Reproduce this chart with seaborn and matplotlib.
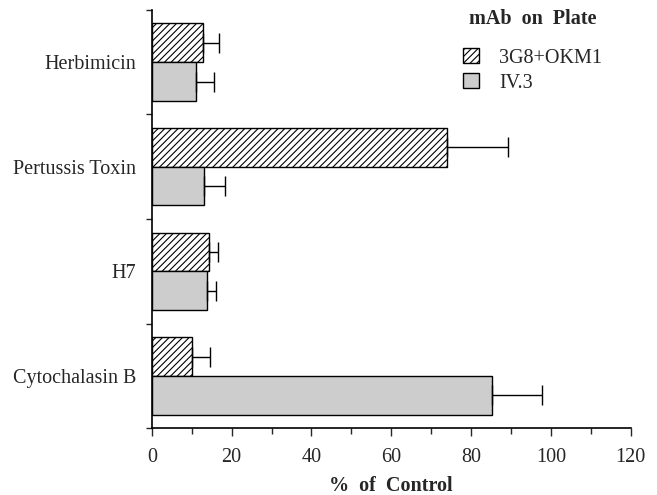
import matplotlib
matplotlib.use("Agg")
import matplotlib.pyplot as plt
import seaborn as sns
import pandas as pd
import numpy as np
from matplotlib.patches import Patch

categories = ["Herbimicin", "Pertussis Toxin", "H7", "Cytochalasin B"]
series = ["3G8+OKM1", "IV.3"]
vals_3g8 = [12.8, 73.9, 14.3, 10.2]
err_3g8 = [4.0, 15.3, 2.2, 4.3]
vals_iv3 = [11.2, 13.0, 13.8, 85.2]
err_iv3 = [4.4, 5.3, 2.4, 12.5]
xticks = [0, 20, 40, 60, 80, 100, 120]

sns.set_theme(style="ticks")
plt.rcParams['font.family'] = ['Liberation Serif', 'DejaVu Serif']
plt.rcParams['hatch.linewidth'] = 0.8

df = pd.DataFrame({
    "cat": categories * 2,
    "mab": [series[0]] * 4 + [series[1]] * 4,
    "val": vals_3g8 + vals_iv3,
})

fig = plt.figure(figsize=(6.57, 4.95), dpi=100)
ax = fig.add_axes([0.231, 0.135, 0.729, 0.845])

sns.barplot(data=df, y="cat", x="val", hue="mab", order=categories,
            hue_order=series, orient="h", width=0.74, errorbar=None,
            palette=["white", "#cdcdcd"], edgecolor="black", linewidth=1.0,
            ax=ax, legend=False)

containers = list(ax.containers)
errs = [err_3g8, err_iv3]
for ci, cont in enumerate(containers):
    for bi, bar in enumerate(cont.patches):
        if ci == 0:
            bar.set_hatch("/////")
        yc = bar.get_y() + bar.get_height() / 2
        w = bar.get_width()
        ax.errorbar([w], [yc], xerr=[[0], [errs[ci][bi]]], fmt="none",
                    ecolor="black", elinewidth=1.0, capsize=7, capthick=1.0)

fs = 14.5
ax.set_xlim(0, 120)
ax.set_ylim(3.5, -0.5)
ax.set_xticks(xticks)
ax.set_xticks(np.arange(0, 121, 10), minor=True)
ax.set_xticklabels([str(t) for t in xticks], fontsize=fs)
ax.set_yticks(range(len(categories)))
ax.set_yticklabels(categories, fontsize=fs)
ax.tick_params(axis="y", which="major", length=0, pad=11)
ax.set_yticks([-0.5, 0.5, 1.5, 2.5, 3.5], minor=True)
ax.tick_params(axis="y", which="minor", length=4, width=1, direction="out")
ax.tick_params(axis="x", which="major", length=6, width=1, direction="out", pad=8)
ax.tick_params(axis="x", which="minor", length=4, width=1, direction="out")
ax.set_ylabel("")
ax.set_xlabel("%  of  Control", fontsize=fs, fontweight="bold", labelpad=7)
for s in ["top", "right"]:
    ax.spines[s].set_visible(False)
for s in ["left", "bottom"]:
    ax.spines[s].set_linewidth(1.2)
    ax.spines[s].set_color("black")

handles = [Patch(facecolor="white", edgecolor="black", hatch="/////", label=series[0]),
           Patch(facecolor="#cdcdcd", edgecolor="black", label=series[1])]
leg = ax.legend(handles=handles, title="mAb  on  Plate", loc="upper right",
                bbox_to_anchor=(0.94, 1.003), frameon=False, fontsize=fs,
                title_fontproperties={"weight": "bold", "size": fs},
                handlelength=0.8, handleheight=0.8, handletextpad=1.0,
                labelspacing=0.25, borderpad=0, borderaxespad=0)
leg._legend_box.sep = 14

fig.savefig("out.png", dpi=100)
